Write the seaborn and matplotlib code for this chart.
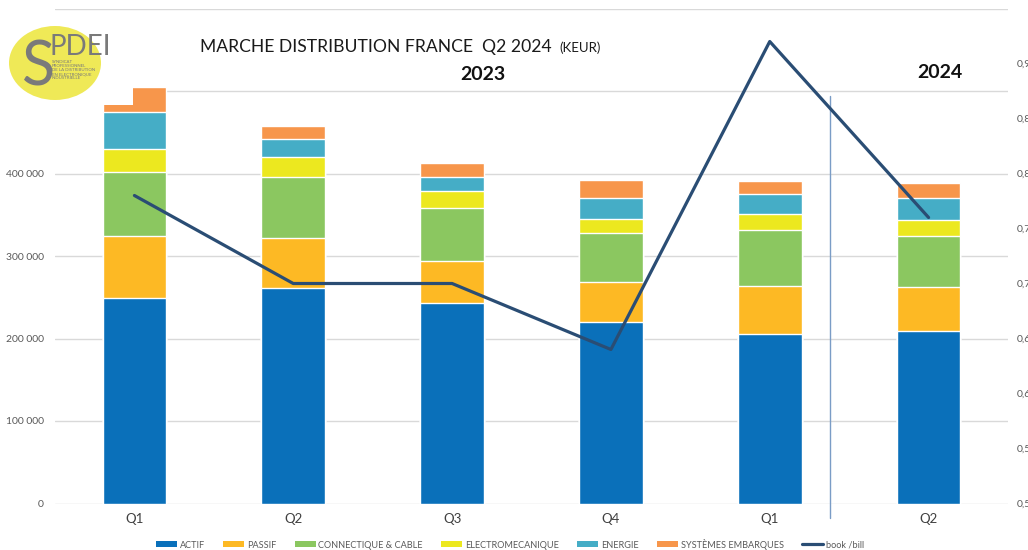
import pandas as pd
import matplotlib
matplotlib.use("Agg")
import matplotlib.pyplot as plt
import seaborn as sns
from matplotlib.patches import Patch, Ellipse, Rectangle
from matplotlib.lines import Line2D

# Données (KEUR)
periodes = ["Q1 2023", "Q2 2023", "Q3 2023", "Q4 2023", "Q1 2024", "Q2 2024"]
trimestres = ["Q1", "Q2", "Q3", "Q4", "Q1", "Q2"]
actif = [249000, 261000, 243000, 220000, 205000, 209000]
passif = [75000, 61000, 51000, 48000, 59000, 53000]
connectique = [78000, 74000, 64000, 60000, 68000, 62000]
electromecanique = [28000, 24000, 21000, 17000, 19000, 20000]
energie = [45000, 22000, 17000, 25000, 24000, 26000]
embarques = [30000, 16000, 17000, 22000, 16000, 18000]
book_bill = [0.78, 0.70, 0.70, 0.64, 0.92, 0.76]

series = ["ACTIF", "PASSIF", "CONNECTIQUE & CABLE", "ELECTROMECANIQUE", "ENERGIE", "SYSTÈMES EMBARQUES"]
couleurs = ["#0a70ba", "#fdb924", "#8bc760", "#ece81f", "#45adc6", "#f7964b"]

df = pd.DataFrame({
    "periode": periodes,
    "ACTIF": actif,
    "PASSIF": passif,
    "CONNECTIQUE & CABLE": connectique,
    "ELECTROMECANIQUE": electromecanique,
    "ENERGIE": energie,
    "SYSTÈMES EMBARQUES": embarques,
})
cumul = df[series].cumsum(axis=1)
cumul["periode"] = periodes

sns.set_theme(style="white")
plt.rcParams["font.family"] = ["Lato", "DejaVu Sans"]

fig = plt.figure(figsize=(10.28, 5.5), dpi=100)
ax = fig.add_axes([55 / 1028, 46.5 / 550, 953 / 1028, 495 / 550])

# barres empilées : on trace les cumuls du plus haut au plus bas
for serie, couleur in reversed(list(zip(series, couleurs))):
    sns.barplot(data=cumul, x="periode", y=serie, color=couleur, width=0.4,
                saturation=1, ax=ax, zorder=2)

ax.set_ylim(0, 600000)
ax.set_yticks(range(0, 600001, 100000))
ax.set_yticklabels(["0", "100 000", "200 000", "300 000", "400 000", "", ""])
ax.set_xticks(range(len(trimestres)))
ax.set_xticklabels(trimestres)
ax.set_xlim(-0.5, 5.5)
ax.set_xlabel("")
ax.set_ylabel("")
ax.grid(axis="y", color="#d9d9d9", linewidth=1, zorder=0)
ax.set_axisbelow(True)
for s in ax.spines.values():
    s.set_visible(False)
ax.tick_params(axis="y", colors="#595959", labelsize=7.5, length=0, pad=8)
ax.tick_params(axis="x", colors="#404040", labelsize=9.5, length=0, pad=7)

# book / bill sur l'axe de droite
ax2 = ax.twinx()
sns.lineplot(x=list(range(len(book_bill))), y=book_bill, color="#2a4d74",
             linewidth=2.3, ax=ax2, zorder=3)
ax2.set_ylim(0.5, 0.95)
ax2.set_yticks([0.5, 0.55, 0.6, 0.65, 0.7, 0.75, 0.8, 0.85, 0.9, 0.95])
ax2.set_yticklabels(["0,50", "0,55", "0,60", "0,65", "0,70", "0,75", "0,80", "0,85", "0,90", ""])
ax2.tick_params(axis="y", colors="#595959", labelsize=7.5, length=0, pad=6)
for s in ax2.spines.values():
    s.set_visible(False)
ax2.grid(False)

# séparation 2023 / 2024
ax.axvline(4.38, ymin=-0.03, ymax=0.823, color="#7a9cc6", linewidth=1, clip_on=False, zorder=4)

# titres
titre = fig.text(200 / 1028, 1 - 52 / 550, "MARCHE DISTRIBUTION FRANCE  Q2 2024", fontsize=12.6,
                 color="#1a1a1a", ha="left", va="baseline")
fig.canvas.draw()
bb = titre.get_window_extent()
fig.text((bb.x1 + 8) / 1028, 1 - 52 / 550, "(KEUR)", fontsize=9.5, color="#1a1a1a",
         ha="left", va="baseline")
fig.text(483 / 1028, 1 - 75 / 550, "2023", fontsize=14, fontweight="bold", color="#111111",
         ha="center", va="center")
fig.text(940 / 1028, 1 - 72 / 550, "2024", fontsize=14, fontweight="bold", color="#111111",
         ha="center", va="center")

# logo SPDEI
fig.patches.append(Rectangle((0, 1 - 105 / 550), 133 / 1028, 92 / 550, transform=fig.transFigure,
                             facecolor="white", edgecolor="none", zorder=5))
fig.patches.append(Ellipse((55 / 1028, 1 - 63 / 550), 92 / 1028, 74 / 550, transform=fig.transFigure,
                           facecolor="#efe957", edgecolor="none", zorder=6))
fig.text(22 / 1028, 1 - 86 / 550, "S", fontsize=44, color="#7a7a7a", ha="left", va="baseline", zorder=7)
fig.text(50 / 1028, 1 - 55 / 550, "PDEI", fontsize=20, color="#7a7a7a", ha="left", va="baseline", zorder=7)
fig.text(52 / 1028, 1 - 60 / 550,
         "SYNDICAT\nPROFESSIONNEL\nDE LA DISTRIBUTION\nEN ELECTRONIQUE\nINDUSTRIELLE",
         fontsize=3.2, color="#7a7a7a", ha="left", va="top", linespacing=1.0, zorder=7)

# légende
handles = [Patch(facecolor=c, edgecolor="none", label=s) for s, c in zip(series, couleurs)]
handles.append(Line2D([0], [0], color="#2a4d74", linewidth=2.3, label="book /bill"))
fig.legend(handles=handles, loc="center", bbox_to_anchor=(510 / 1028, 1 - 544 / 550), ncol=7,
           frameon=False, fontsize=6.6, labelcolor="#595959", handlelength=2.3, handleheight=0.55,
           handletextpad=0.3, columnspacing=2.0)

fig.savefig("out.png", dpi=100)
